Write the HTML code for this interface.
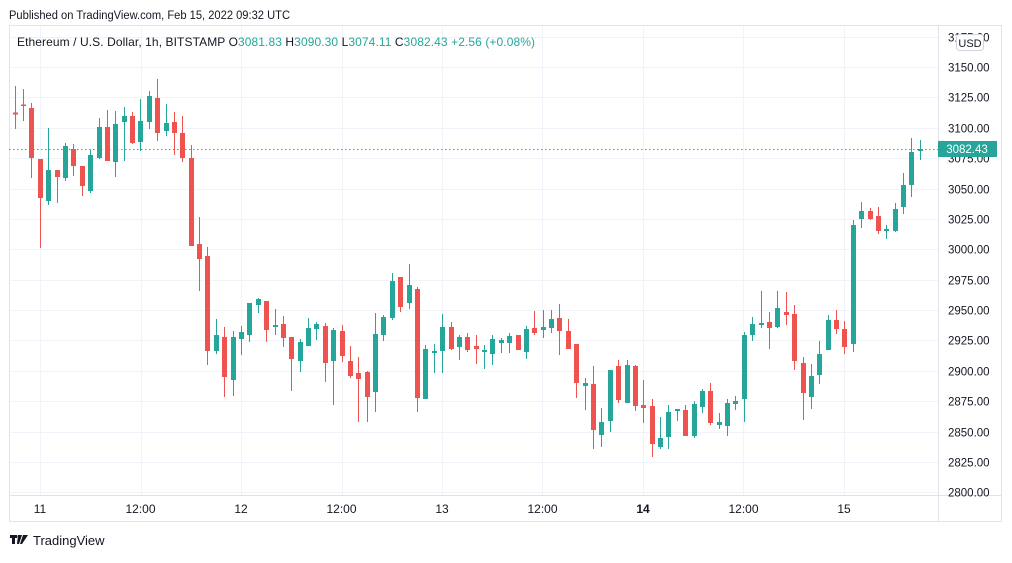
<!DOCTYPE html>
<html><head><meta charset="utf-8"><style>
body{margin:0;background:#fff;width:1012px;height:558px;overflow:hidden;font-family:"Liberation Sans",sans-serif}
</style></head><body>
<svg width="1012" height="558" xmlns="http://www.w3.org/2000/svg" font-family="Liberation Sans, sans-serif">
<rect width="1012" height="558" fill="#fff"/>
<text x="9" y="19" font-size="11.5" fill="#131722" textLength="281" lengthAdjust="spacingAndGlyphs">Published on TradingView.com, Feb 15, 2022 09:32 UTC</text>
<rect x="9.5" y="25.5" width="992" height="496" fill="#fff" stroke="#e0e3eb"/>
<g id="grid" stroke="#f0f3fa" stroke-width="1"></g>
<line x1="938.5" y1="25" x2="938.5" y2="522" stroke="#e0e3eb"/>
<line x1="9" y1="495.5" x2="1002" y2="495.5" stroke="#e0e3eb"/>
<line x1="9" y1="149.5" x2="938" y2="149.5" stroke="#26a69a" stroke-dasharray="1.5,2.5"/>
<g id="c"></g>
<g id="pl" font-size="11.5" fill="#131722"></g>
<rect x="938" y="141" width="59" height="16" fill="#26a69a"/>
<text x="967" y="153" font-size="11.5" fill="#fff" text-anchor="middle">3082.43</text>
<rect x="956.5" y="34.5" width="27" height="16" rx="3" fill="#fff" stroke="#d1d4dc"/>
<text x="970" y="47" font-size="11" fill="#131722" text-anchor="middle">USD</text>
<g font-size="12" fill="#131722" text-anchor="middle">
<text x="40" y="513">11</text><text x="140.5" y="513">12:00</text><text x="241" y="513">12</text>
<text x="341.5" y="513">12:00</text><text x="442" y="513">13</text><text x="542.5" y="513">12:00</text>
<text x="643" y="513" font-weight="bold">14</text><text x="743.5" y="513">12:00</text><text x="844" y="513">15</text>
</g>
<text x="17" y="46" font-size="12" fill="#131722" textLength="518" lengthAdjust="spacing">Ethereum / U.S. Dollar, 1h, BITSTAMP  <tspan>O</tspan><tspan fill="#26a69a">3081.83</tspan> <tspan> H</tspan><tspan fill="#26a69a">3090.30</tspan> <tspan> L</tspan><tspan fill="#26a69a">3074.11</tspan> <tspan> C</tspan><tspan fill="#26a69a">3082.43</tspan><tspan fill="#26a69a">  +2.56 (+0.08%)</tspan></text>
<g fill="#131722"><rect x="10" y="535" width="7" height="3"/><rect x="12" y="535" width="3" height="9"/><path d="M18 535h4l-3 9h-2z"/><circle cx="19" cy="536.5" r="1.5"/><path d="M23 535h5l-6 9h-2z"/></g>
<text x="33" y="545" font-size="13" fill="#131722">TradingView</text>
</svg>
<script>
var NS="http://www.w3.org/2000/svg";
function el(p,t,a,txt){var e=document.createElementNS(NS,t);for(var k in a)e.setAttribute(k,a[k]);if(txt)e.textContent=txt;p.appendChild(e);return e;}
var g=document.getElementById('grid'),pl=document.getElementById('pl');
for(var i=0;i<16;i++){var y=Math.round(36.6+30.38*i)+0.5;if(y<495){el(g,'line',{x1:10,x2:938,y1:y,y2:y});}
var p=3175-25*i;el(pl,'text',{x:948,y:y+4},p.toFixed(2));}
for(var k=0;k<9;k++){var x=Math.round(40.3+100.4*k)+0.5;el(g,'line',{x1:x,x2:x,y1:26,y2:495});}
var d=[
[15.3,112.5,114.5,86,129,'r'],[23.3,104.5,106,89,121,'r'],[31.3,108,158,103,178,'r'],[40.3,159,198,159,248,'r'],
[48.3,170,201,128,205,'g'],[57.3,170,177,170,203,'r'],[65.3,146,178,143,181,'g'],[73.3,149,166,144,176,'r'],
[82.3,166,186,166,196,'r'],[90.3,155,191,150,193,'g'],[99,127,158,118,159,'g'],[107.3,127,161,110,161,'r'],
[115.3,124,162,111,177,'g'],[124.3,116,122,107,161,'g'],[132.3,116,143,112,144,'r'],[140.3,121,142,99,151,'g'],
[149.3,96,122,91,129,'g'],[157.3,98,133,79,141,'r'],[166.3,123,131,104,136,'g'],[174.3,122,133,112,155,'r'],
[182.3,133,158,116,162,'r'],[191.3,158,246,145,246,'r'],[199.3,244,259,217,291,'r'],[207.3,256,351,247,365,'r'],
[216.3,335,351,319,354,'g'],[224.3,337,377,327,397,'r'],[233.3,337,380,331,396,'g'],[241.3,332,339,326,355,'g'],
[249.3,303,335,303,342,'g'],[258.3,299,305,298,313,'g'],[266.3,301,330,301,342,'r'],[275.3,325,327,309,335,'g'],
[283.3,324,338,316,347,'r'],[291.3,337,359,337,391,'r'],[300.3,342,361,339,372,'g'],[308.3,328,346,318,346,'g'],
[316.3,324,329,322,340,'g'],[325.3,326,363,323,382,'r'],[333.3,330,361,328,405,'g'],[342.3,331,356,325,362,'r'],
[350.3,361,376,346,378,'r'],[358.3,373,379,357,422,'r'],[367.3,372,397,371,422,'r'],[375.3,334,392,313,412,'g'],
[383.3,317,335,315,341,'g'],[392.3,281,318,273,320,'g'],[400.3,277,307,277,312,'r'],[409.3,285,303,264,309,'g'],
[417.3,289,398,287,412,'r'],[425.3,349,399,345,399,'g'],[434.3,351,353,344,373,'g'],[442.3,327,351,314,373,'g'],
[451.3,327,349,322,350,'r'],[459.3,337,347,335,360,'g'],[467.3,337,350,333,352,'r'],[476.3,346,349,335,364,'r'],
[484.3,350,352,345,369,'g'],[492.3,339,354,335,365,'g'],[501.3,340,343,338,353,'g'],[509.3,336,343,333,353,'g'],
[518.3,335,350,335,350,'r'],[526.3,329,352,326,359,'g'],[534.3,328,333,311,335,'r'],[543.3,327,330,310,338,'g'],
[551.3,319,328,310,333,'g'],[559.3,318,331,304,355,'r'],[568.3,331,349,319,349,'r'],[576.3,344,383,344,398,'r'],
[585.3,383,386,378,410,'g'],[593.3,384,430,366,449,'r'],[601.3,422,435,408,447,'g'],[610.3,370,421,370,432,'g'],
[618.3,366,400,360,403,'r'],[627.3,365,403,360,403,'g'],[635.3,366,406,365,411,'r'],[643.3,405,408,380,423,'r'],
[652.3,406,444,399,457,'r'],[660.3,438,447,417,449,'g'],[668.3,412,437,405,449,'g'],[677.3,409,411,409,421,'g'],
[685.3,410,436,405,436,'r'],[694.3,404,436,401,438,'g'],[702.3,391,407,389,413,'g'],[710.3,391,423,383,425,'r'],
[719.3,422,425,413,429,'g'],[727.3,403,426,399,436,'g'],[735.3,401,404,396,410,'g'],[744.3,335,399,332,422,'g'],
[752.3,324,335,317,341,'g'],[761.3,323,325,291,328,'g'],[769.3,322,328,312,349,'r'],[777.3,308,327,291,328,'g'],
[786.3,312,315,292,325,'r'],[794.3,314,361,305,370,'r'],[803.3,363,393,357,420,'r'],[811.3,376,397,364,409,'g'],
[819.3,354,375,341,384,'g'],[828.3,320,350,315,350,'g'],[836.3,320,329,310,334,'r'],[844.3,329,347,321,354,'r'],
[853.3,225,344,220,352,'g'],[861.3,211,219,202,228,'g'],[870.3,211,219,208,220,'r'],[878.3,216,231,207,234,'r'],
[886.3,229,231,225,239,'g'],[895.3,209,231,203,232,'g'],[903.3,185,207,173,214,'g'],[911.3,152,185,138,197,'g'],
[920.3,149,151,140,160,'g']];
var c=document.getElementById('c');
d.forEach(function(a){var col=a[5]=='g'?'#26a69a':'#ef5350';var x=Math.round(a[0]);
el(c,'rect',{x:x,y:a[3],width:1,height:a[4]-a[3],fill:col});
el(c,'rect',{x:x-2,y:a[1],width:5,height:Math.max(1.5,a[2]-a[1]),fill:col});});
</script>
</body></html>
